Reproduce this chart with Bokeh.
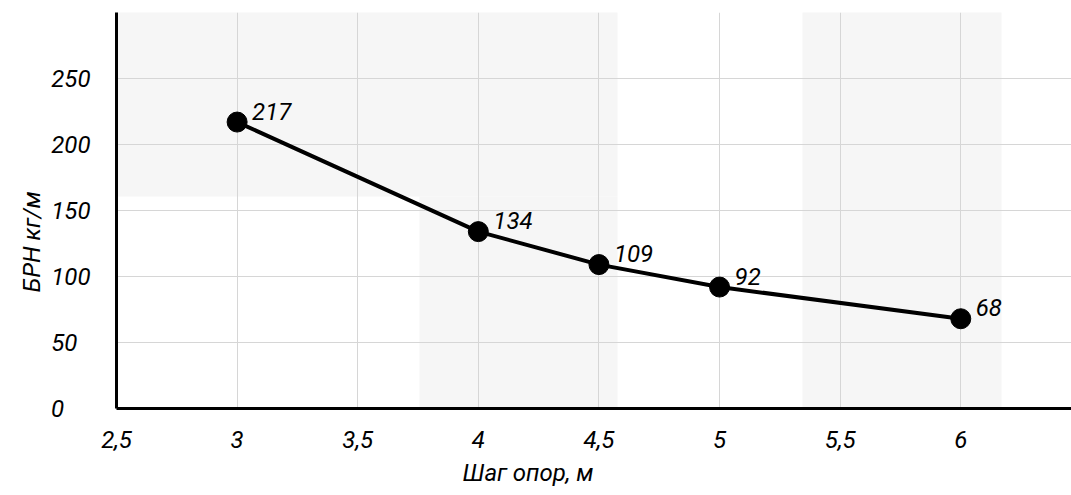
from bokeh.plotting import figure
from bokeh.models import (FixedTicker, Range1d, LabelSet, BoxAnnotation, Title,
                          ColumnDataSource)
from bokeh.core.properties import value
from bokeh.embed import file_html
from bokeh.resources import INLINE

# ---- data ----
x_vals = [3, 4, 4.5, 5, 6]
y_vals = [217, 134, 109, 92, 68]
point_labels = ["217", "134", "109", "92", "68"]
x_ticks = [2.5, 3, 3.5, 4, 4.5, 5, 5.5, 6]
x_tick_labels = ["2,5", "3", "3,5", "4", "4,5", "5", "5,5", "6"]
y_ticks = [0, 50, 100, 150, 200, 250]
y_tick_labels = ["0", "50", "100", "150", "200", "250"]
x_title = "Шаг опор, м"
y_title = "БРН кг/м"

FONT = "Roboto"
FS = "24px"
GRID = "#d6d6d6"
SHADE = "#f6f6f6"

p = figure(width=1071, height=495, output_backend="svg", toolbar_location=None,
           x_range=Range1d(2.5, 6.459), y_range=Range1d(0, 300),
           min_border_left=116, min_border_right=0, min_border_top=12,
           min_border_bottom=87)
p.outline_line_color = None
p.background_fill_color = "white"
p.border_fill_color = "white"

# faint background panels of the original page (canvas pixels)
def shade(l, r, t, b):
    return BoxAnnotation(left=l, right=r, top=t, bottom=b,
                         left_units="canvas", right_units="canvas",
                         top_units="canvas", bottom_units="canvas",
                         fill_color=SHADE, fill_alpha=1, line_color=None,
                         level="underlay")

boxes = [shade(0, 617, 0, 196), shade(419, 617, 196, 495), shade(802, 1001, 0, 495)]
p.center = boxes + list(p.center)

# grid
p.xgrid.ticker = FixedTicker(ticks=x_ticks)
p.ygrid.ticker = FixedTicker(ticks=y_ticks + [300])
p.grid.grid_line_color = GRID
p.grid.grid_line_width = 1

common = dict(major_label_text_font=FONT, major_label_text_font_style="italic",
              major_label_text_font_size=FS, major_label_text_color="black",
              axis_line_color="black", axis_line_width=3,
              major_tick_line_color=None, minor_tick_line_color=None)

# x axis
p.xaxis.ticker = FixedTicker(ticks=x_ticks)
p.xaxis.major_label_overrides = {float(t): s for t, s in zip(x_ticks, x_tick_labels)}
for k, v in common.items():
    setattr(p.xaxis[0], k, v)
p.xaxis.major_label_standoff = 16

# y axis: labels padded with figure spaces so they line up on the left
width = max(len(s) for s in y_tick_labels)
p.yaxis.ticker = FixedTicker(ticks=y_ticks)
p.yaxis.major_label_overrides = {float(t): s + "\u2007" * (width - len(s))
                                 for t, s in zip(y_ticks, y_tick_labels)}
for k, v in common.items():
    setattr(p.yaxis[0], k, v)
p.yaxis.major_label_standoff = 20

# data
src = ColumnDataSource(dict(x=x_vals, y=y_vals, text=point_labels))
p.line("x", "y", source=src, line_color="black", line_width=4)
p.scatter("x", "y", source=src, size=20, fill_color="black", line_color="black")
p.add_layout(LabelSet(x="x", y="y", text="text", source=src,
                      text_font=value(FONT), text_font_style="italic",
                      text_font_size=FS, text_align="left", text_baseline="middle",
                      x_offset=15, y_offset=11, text_color="black"))

# axis titles
p.add_layout(Title(text=x_title, align="left", offset=346, standoff=12,
                   text_font=FONT, text_font_style="italic", text_font_size=FS,
                   text_color="black"), "below")
p.add_layout(Title(text=y_title, align="left", offset=116, standoff=5,
                   text_font=FONT, text_font_style="italic", text_font_size=FS,
                   text_color="black"), "left")

open("out.html", "w").write(file_html(p, INLINE))
